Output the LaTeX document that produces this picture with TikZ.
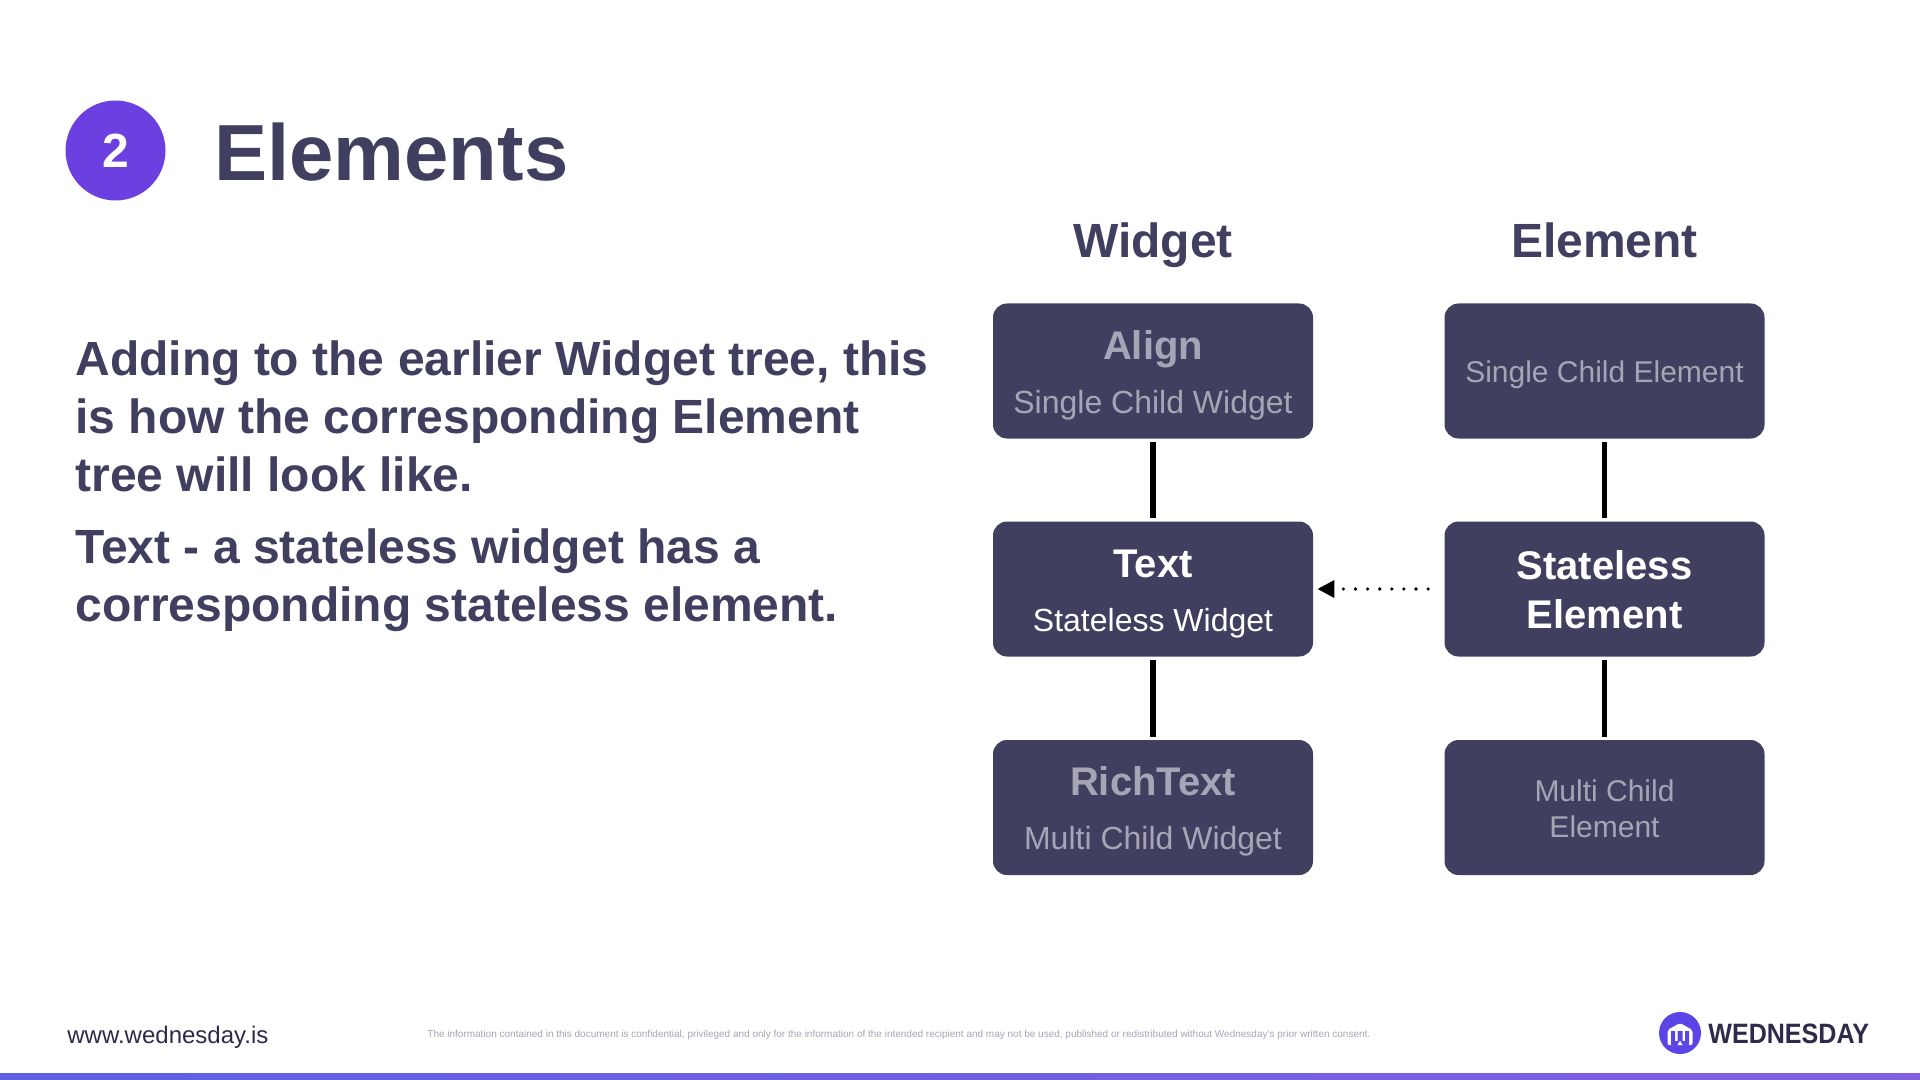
\documentclass[tikz,border=0pt]{standalone}
\usepackage{fontspec}
\setmainfont{Liberation Sans}
\usetikzlibrary{arrows.meta}
\definecolor{ink}{HTML}{413F5F}
\definecolor{muted}{HTML}{A6A5B6}
\definecolor{violet}{HTML}{6C3FE0}
\definecolor{logoink}{HTML}{2E2A4A}
\definecolor{logoblue}{HTML}{5B45E6}
\definecolor{barl}{HTML}{5E60E5}
\definecolor{barr}{HTML}{8260E0}
\tikzset{
  card/.style={fill=ink,draw=none,rounded corners=7pt,minimum width=160pt,minimum height=67.5pt,inner sep=0pt},
  txt/.style={inner sep=0pt,anchor=base,align=center},
  main/.style={txt,font=\fontsize{20}{20}\selectfont\bfseries},
  sub/.style={txt,font=\fontsize{16}{16}\selectfont},
  subsmall/.style={txt,font=\fontsize{15}{15}\selectfont},
  head/.style={txt,font=\fontsize{24}{24}\selectfont\bfseries,text=ink},
  para/.style={inner sep=0pt,anchor=base west,text=ink,font=\fontsize{24}{24}\selectfont\bfseries},
  treeline/.style={line width=2.6pt,black,shorten >=1.5pt,shorten <=1.5pt},
  dotline/.style={line width=1.8pt,black,line cap=round,dash pattern=on 0pt off 6.05pt,
    -{Triangle[length=8.5pt,width=8.5pt]},shorten >=2pt,shorten <=8pt}
}
\begin{document}
\begin{tikzpicture}[x=0.5pt,y=-0.5pt]
\useasboundingbox (0,0) rectangle (1920,1080);
\fill[white] (0,0) rectangle (1920,1080);
% header
\node[circle,fill=violet,minimum size=50pt,inner sep=0pt] (badge) at (115.5,150.5) {};
\node[txt,text=white,font=\fontsize{24}{24}\selectfont\bfseries] (badgenum) at (115.5,168) {2};
\node[inner sep=0pt,anchor=base west,text=ink,font=\fontsize{39.8}{40}\selectfont\bfseries] (title) at (214,181) {Elements};
% paragraph
\node[para] (p1) at (75,375) {Adding to the earlier Widget tree, this};
\node[para] (p2) at (75,433) {is how the corresponding Element};
\node[para] (p3) at (75,491) {tree will look like.};
\node[para] (p4) at (75,563) {Text - a stateless widget has a};
\node[para] (p5) at (75,621) {corresponding stateless element.};
% columns
\node[head] (hw) at (1153,258) {Widget};
\node[head] (he) at (1604.5,258) {Element};
% cards
\node[card] (w1) at (1153,371) {};
\node[card] (w2) at (1153,589) {};
\node[card] (w3) at (1153,807.5) {};
\node[card] (e1) at (1604.5,371) {};
\node[card] (e2) at (1604.5,589) {};
\node[card] (e3) at (1604.5,807.5) {};
% card texts
\node[main,text=muted] (w1a) at (1153,359.5) {Align};
\node[sub,text=muted] (w1b) at (1153,413.5) {Single Child Widget};
\node[main,text=white] (w2a) at (1153,577.5) {Text};
\node[sub,text=white] (w2b) at (1153,631.5) {Stateless Widget};
\node[main,text=muted] (w3a) at (1153,795.5) {RichText};
\node[sub,text=muted] (w3b) at (1153,849.5) {Multi Child Widget};
\node[subsmall,text=muted] (e1a) at (1604.5,382.5) {Single Child Element};
\node[main,text=white] (e2a) at (1604.5,579) {Stateless};
\node[main,text=white] (e2b) at (1604.5,628) {Element};
\node[subsmall,text=muted] (e3a) at (1604.5,801) {Multi Child};
\node[subsmall,text=muted] (e3b) at (1604.5,837) {Element};
% connectors
\draw[treeline] (w1) -- (w2);
\draw[treeline] (w2) -- (w3);
\draw[treeline] (e1) -- (e2);
\draw[treeline] (e2) -- (e3);
\draw[dotline] (e2) -- (w2);
% footer
\node[inner sep=0pt,anchor=base west,text=logoink,font=\fontsize{12}{12.5}\selectfont] (web) at (67,1043) {www.wednesday.is};
\node[inner sep=0pt,anchor=base west,text=muted,font=\fontsize{5}{5}\selectfont] (legal) at (427,1037) {The information contained in this document is confidential, privileged and only for the information of the intended recipient and may not be used, published or redistributed without Wednesday's prior written consent.};
% logo
\node[circle,fill=logoblue,minimum size=21pt,inner sep=0pt] (logo) at (1680,1033) {};
\fill[white,rounded corners=1pt] (1667.5,1045) -- (1667.5,1030) -- (1680,1023) -- (1692.5,1030) -- (1692.5,1045) -- cycle;
\fill[logoblue] (1671,1045.5) -- (1671,1031) -- (1675,1031) -- (1675,1041) -- (1677.5,1041) -- (1677.5,1031) -- (1682.5,1031) -- (1682.5,1041) -- (1685,1041) -- (1685,1031) -- (1689,1031) -- (1689,1045.5) -- (1683,1045.5) -- (1680,1040.5) -- (1677,1045.5) -- cycle;
\node[inner sep=0pt,anchor=base west,text=logoink] (brand) at (1708,1043) {\scalebox{.895}[1]{\fontsize{14}{14}\selectfont\bfseries WEDNESDAY}};
% bottom bar
\fill[left color=barl,right color=barr] (0,1073) rectangle (1920,1080);
\end{tikzpicture}
\end{document}
